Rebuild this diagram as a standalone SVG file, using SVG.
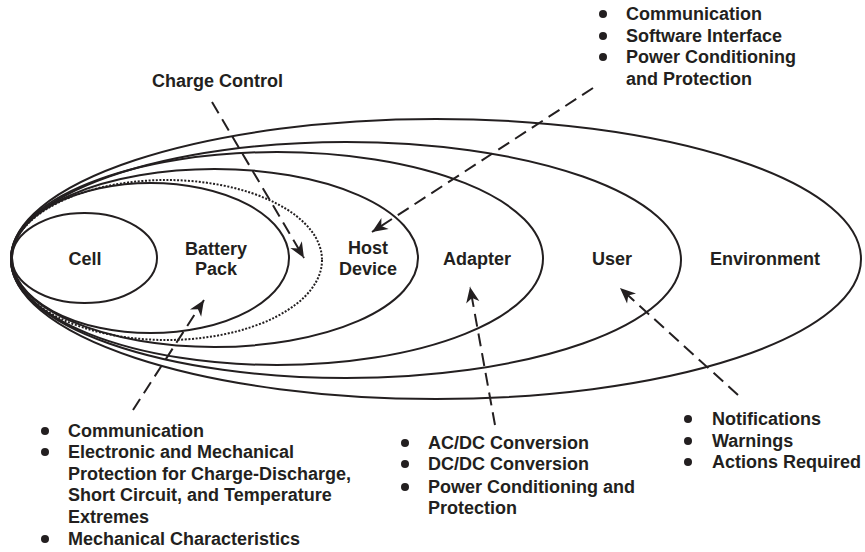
<svg xmlns="http://www.w3.org/2000/svg" width="865" height="552" viewBox="0 0 865 552">
<defs>
<style>
.ring{fill:none;stroke:#231f20;stroke-width:2}
.dot{fill:none;stroke:#231f20;stroke-width:2;stroke-dasharray:2 1.6}
.arr{fill:none;stroke:#231f20;stroke-width:2;stroke-dasharray:13 7;marker-end:url(#ah)}
text{font-family:"Liberation Sans",Arial,sans-serif;font-weight:bold;font-size:18px;fill:#231f20}
.c{text-anchor:middle}
.b{fill:#231f20}
</style>
<marker id="ah" markerUnits="userSpaceOnUse" markerWidth="20" markerHeight="20" viewBox="-16 -8 18 16" refX="0" refY="0" orient="auto">
<path d="M0,0 L-14,-6 L-10,0 L-14,6 Z" fill="#231f20"/>
</marker>
</defs>
<rect width="865" height="552" fill="#fff"/>
<g id="environment"><ellipse class="ring" cx="436" cy="259" rx="425" ry="140"/><text class="c" x="765" y="265">Environment</text></g>
<g id="user"><ellipse class="ring" cx="346" cy="260" rx="335" ry="118"/><text class="c" x="612" y="265">User</text></g>
<g id="adapter"><ellipse class="ring" cx="277" cy="258.5" rx="266" ry="106.5"/><text class="c" x="477" y="265">Adapter</text></g>
<g id="host-device"><ellipse class="ring" cx="214.5" cy="258" rx="203.5" ry="89"/><text class="c" x="368" y="254">Host</text><text class="c" x="368" y="275">Device</text></g>
<g id="charge-boundary"><ellipse class="dot" cx="166.5" cy="260" rx="155.5" ry="80"/></g>
<g id="battery-pack"><ellipse class="ring" cx="150.5" cy="258" rx="138.5" ry="75"/><text class="c" x="216" y="255">Battery</text><text class="c" x="216" y="275">Pack</text></g>
<g id="cell"><ellipse class="ring" cx="84.5" cy="258" rx="72.5" ry="45"/><text class="c" x="85" y="265">Cell</text></g>
<g id="connectors">
<path class="arr" d="M212,102 L304,258"/>
<path class="arr" d="M593,88 L372,232"/>
<path class="arr" d="M133,410 L204,300"/>
<path class="arr" d="M495,425 L470,287"/>
<path class="arr" d="M738,395 L620,288"/>
</g>
<g id="charge-control"><text x="152" y="87">Charge Control</text></g>
<g id="host-notes">
<circle class="b" cx="603" cy="14" r="4"/><text x="626" y="20">Communication</text>
<circle class="b" cx="603" cy="36" r="4"/><text x="626" y="42">Software Interface</text>
<circle class="b" cx="603" cy="57" r="4"/><text x="626" y="63">Power Conditioning</text>
<text x="626" y="85">and Protection</text>
</g>
<g id="pack-notes">
<circle class="b" cx="45" cy="431" r="4"/><text x="68" y="437">Communication</text>
<circle class="b" cx="45" cy="452" r="4"/><text x="68" y="458">Electronic and Mechanical</text>
<text x="68" y="480">Protection for Charge-Discharge,</text>
<text x="68" y="501">Short Circuit, and Temperature</text>
<text x="68" y="523">Extremes</text>
<circle class="b" cx="45" cy="539" r="4"/><text x="68" y="545">Mechanical Characteristics</text>
</g>
<g id="adapter-notes">
<circle class="b" cx="405" cy="443" r="4"/><text x="428" y="449">AC/DC Conversion</text>
<circle class="b" cx="405" cy="464" r="4"/><text x="428" y="470">DC/DC Conversion</text>
<circle class="b" cx="405" cy="487" r="4"/><text x="428" y="493">Power Conditioning and</text>
<text x="428" y="514">Protection</text>
</g>
<g id="user-notes">
<circle class="b" cx="688" cy="419" r="4"/><text x="712" y="425">Notifications</text>
<circle class="b" cx="688" cy="441" r="4"/><text x="712" y="447">Warnings</text>
<circle class="b" cx="688" cy="462" r="4"/><text x="712" y="468">Actions Required</text>
</g>
</svg>
